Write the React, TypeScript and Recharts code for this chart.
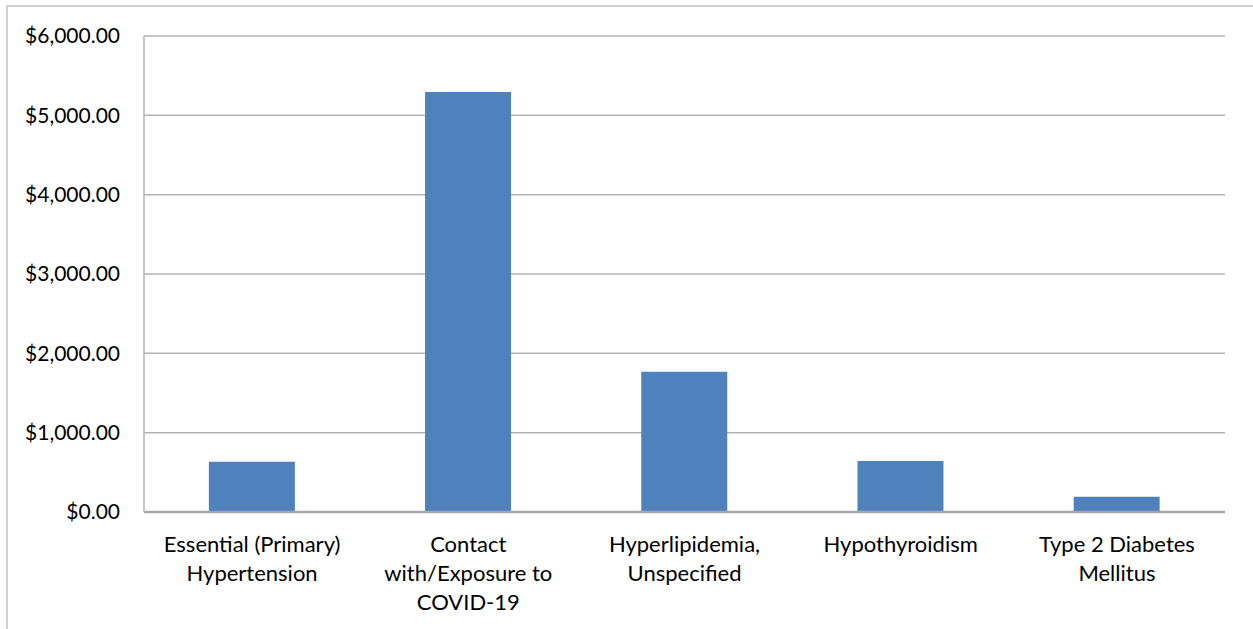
import { BarChart, Bar, XAxis, YAxis, CartesianGrid } from "recharts";

const categories = [
  "Essential (Primary) Hypertension",
  "Contact with/Exposure to COVID-19",
  "Hyperlipidemia, Unspecified",
  "Hypothyroidism",
  "Type 2 Diabetes Mellitus",
];

const amounts = [634, 5294, 1768, 643, 193];

// wrapped category labels, one array per category
const labelLines = [
  ["Essential (Primary)", "Hypertension"],
  ["Contact", "with/Exposure to", "COVID-19"],
  ["Hyperlipidemia,", "Unspecified"],
  ["Hypothyroidism"],
  ["Type 2 Diabetes", "Mellitus"],
];

const yTicks = [0, 1000, 2000, 3000, 4000, 5000, 6000];

const data = categories.map((name, i) => ({ name, amount: amounts[i], lines: labelLines[i] }));

const FONT = "Lato, 'Open Sans', sans-serif";

const money = (v: number) =>
  "$" + v.toLocaleString("en-US", { minimumFractionDigits: 2, maximumFractionDigits: 2 });

function CategoryTick(props: any) {
  const { x, y, index } = props;
  const lines = labelLines[index] || [];
  return (
    <text x={x} y={y} textAnchor="middle" fill="#000" fontSize={22} fontFamily={FONT}>
      {lines.map((line, i) => (
        <tspan key={i} x={x} y={y + 32 + i * 29}>
          {line}
        </tspan>
      ))}
    </text>
  );
}

export default function App() {
  return (
    <div style={{ position: "absolute", left: 0, top: 0, width: 1253, height: 629, background: "#fff" }}>
      <div
        style={{
          position: "absolute",
          left: 6,
          top: 5,
          width: 1260,
          height: 640,
          border: "2px solid #d0d0d0",
          boxSizing: "border-box",
        }}
      />
      <BarChart
        width={1253}
        height={629}
        data={data}
        margin={{ top: 36, right: 28, bottom: 0, left: 0 }}
        barCategoryGap="30%"
        style={{ position: "absolute", left: 0, top: 0 }}
      >
        <CartesianGrid vertical={false} stroke="#b3b3b3" strokeWidth={1.5} />
        <XAxis
          dataKey="name"
          height={117}
          axisLine={{ stroke: "#a6a6a6", strokeWidth: 2.5 }}
          tickLine={false}
          tick={<CategoryTick />}
          interval={0}
        />
        <YAxis
          width={144}
          domain={[0, 6000]}
          ticks={yTicks}
          tickFormatter={money}
          axisLine={{ stroke: "#b3b3b3", strokeWidth: 1.5 }}
          tickLine={false}
          tickMargin={18}
          tick={{ fill: "#000", fontSize: 21, fontFamily: FONT }}
        />
        <Bar dataKey="amount" fill="#4f81bd" isAnimationActive={false} />
      </BarChart>
    </div>
  );
}
